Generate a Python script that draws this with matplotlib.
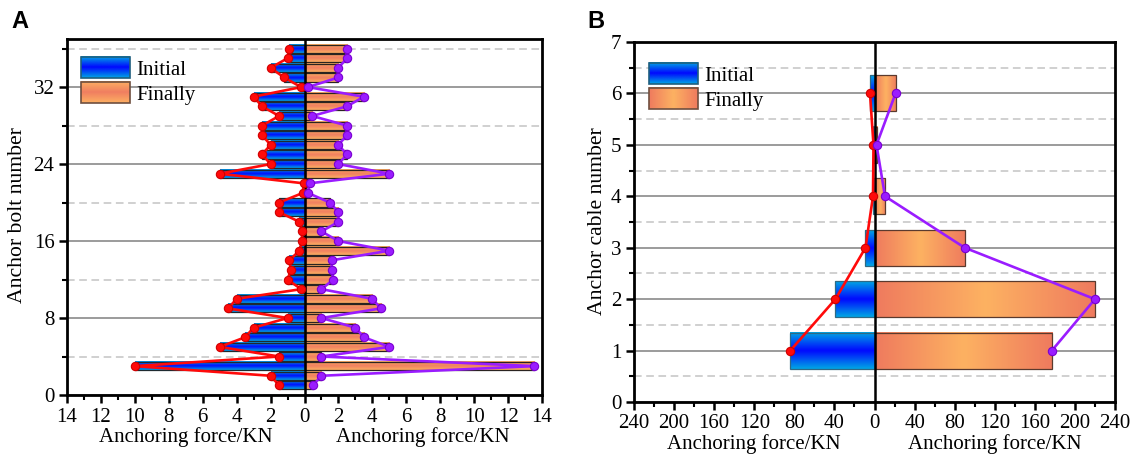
import numpy as np
import matplotlib
matplotlib.use("Agg")
import matplotlib.pyplot as plt
from matplotlib.colors import LinearSegmentedColormap
from matplotlib.ticker import MultipleLocator, FuncFormatter
from matplotlib.legend_handler import HandlerBase
from matplotlib.image import BboxImage
from matplotlib.transforms import Bbox, TransformedBbox
from matplotlib.patches import Rectangle

# ---------------- data ----------------
bolt_number = list(range(1, 37))
bolt_initial = [1.5, 2.0, 10.0, 1.5, 5.0, 3.5, 3.0, 1.0, 4.5, 4.0, 0.2, 1.0,
                0.8, 0.9, 0.3, 0.15, 0.15, 0.3, 1.5, 1.5, 0.1, 0.05, 5.0, 2.0,
                2.5, 2.0, 2.5, 2.5, 1.5, 2.5, 3.0, 0.2, 1.2, 2.0, 1.0, 0.9]
bolt_finally = [0.5, 1.0, 13.5, 1.0, 5.0, 3.5, 3.0, 1.0, 4.5, 4.0, 1.0, 1.7,
                1.6, 1.6, 5.0, 2.0, 1.0, 2.0, 2.0, 1.5, 0.2, 0.3, 5.0, 2.0,
                2.5, 2.0, 2.5, 2.5, 0.45, 2.5, 3.5, 0.2, 2.0, 2.0, 2.5, 2.5]

cable_number = [1, 2, 3, 4, 5, 6]
cable_initial = [84, 39, 9, 1.5, 1, 4.5]
cable_finally = [177, 220, 90, 10.5, 2, 21]

legend_labels = ["Initial", "Finally"]
x_label = "Anchoring force/KN"
ylabel_a = "Anchor bolt number"
ylabel_b = "Anchor cable number"

# ---------------- style ----------------
plt.rcParams['font.family'] = ['Liberation Serif', 'DejaVu Serif']
FS = 15
FS_YL = 15.6

blue_cmap = LinearSegmentedColormap.from_list("b", ["#00A6E4", "#0008FF", "#00A6E4"])
orange_v_cmap = LinearSegmentedColormap.from_list("ov", ["#FDB062", "#F07E60", "#FDB062"])
orange_h_cmap = LinearSegmentedColormap.from_list("oh", ["#EF7B5E", "#FDB262", "#EF7B5E"])

grad_v = np.linspace(0, 1, 64).reshape(-1, 1)
grad_h = np.linspace(0, 1, 64).reshape(1, -1)

RED = "#FF0A0A"
PURPLE = "#9A1CFF"


def gradient_bars(ax, y, vals, height, cmap, grad, edgecolor, lw=0.9):
    bars = ax.barh(y, vals, height=height, color='none', edgecolor=edgecolor,
                   linewidth=lw, zorder=3)
    for r in bars:
        x0, y0, w, h = r.get_x(), r.get_y(), r.get_width(), r.get_height()
        ax.imshow(grad, cmap=cmap, extent=[x0, x0 + w, y0, y0 + h],
                  aspect='auto', interpolation='bicubic', zorder=2.5, origin='lower')
    return bars


class GradHandler(HandlerBase):
    def __init__(self, cmap, grad, ec):
        super().__init__()
        self.cmap = cmap
        self.grad = grad
        self.ec = ec

    def create_artists(self, legend, orig_handle, xdescent, ydescent, width,
                       height, fontsize, trans):
        bb = Bbox.from_bounds(-xdescent, -ydescent, width, height)
        img = BboxImage(TransformedBbox(bb, trans), cmap=self.cmap,
                        interpolation='bicubic', origin='lower')
        img.set_data(self.grad)
        rect = Rectangle((-xdescent, -ydescent), width, height, fc='none',
                         ec=self.ec, lw=1.2, transform=trans)
        return [img, rect]


def style_axis(ax):
    for s in ax.spines.values():
        s.set_linewidth(2.0)
        s.set_color('black')
    ax.tick_params(axis='both', which='major', direction='out', length=6,
                   width=1.8, labelsize=FS, pad=3)
    ax.tick_params(axis='both', which='minor', direction='out', length=3.5,
                   width=1.5)
    ax.tick_params(top=False, right=False, which='both')
    ax.xaxis.set_major_formatter(FuncFormatter(lambda v, p: f"{abs(v):g}"))
    ax.grid(which='major', axis='y', color='#808080', lw=1.1, ls='-', zorder=0)
    ax.grid(which='minor', axis='y', color='#C4C4C4', lw=1.1, ls=(0, (5, 3)), zorder=0)
    ax.set_axisbelow(True)


W, H = 1137, 457
fig = plt.figure(figsize=(W / 100, H / 100), dpi=100)

def px_axes(l, t, r, b):
    return fig.add_axes([l / W, 1 - b / H, (r - l) / W, (b - t) / H])

# ---------------- Panel A ----------------
axA = px_axes(67, 39, 542, 395)
neg_init = [-v for v in bolt_initial]
gradient_bars(axA, bolt_number, neg_init, 0.85, blue_cmap, grad_v, '#1E2A30')
gradient_bars(axA, bolt_number, bolt_finally, 0.85, orange_v_cmap, grad_v, '#2A2420')
axA.axvline(0, color='black', lw=1.8, zorder=4)
axA.plot(neg_init, bolt_number, '-o', color=RED, lw=1.9, ms=6,
         mfc=RED, mec='#D00000', mew=0.8, zorder=5)
axA.plot(bolt_finally, bolt_number, '-o', color=PURPLE, lw=1.9, ms=6,
         mfc=PURPLE, mec='#7A00D0', mew=0.8, zorder=5)
axA.set_xlim(-14, 14)
axA.set_ylim(0, 37)
axA.xaxis.set_major_locator(MultipleLocator(2))
axA.xaxis.set_minor_locator(MultipleLocator(1))
axA.yaxis.set_major_locator(MultipleLocator(8))
axA.yaxis.set_minor_locator(MultipleLocator(4))
style_axis(axA)

hA = [Rectangle((0, 0), 1, 1), Rectangle((0, 0), 1, 1)]
axA.legend(hA, legend_labels, loc='upper left', bbox_to_anchor=(0.0295, 0.95),
           frameon=False, fontsize=FS, borderpad=0, borderaxespad=0,
           handlelength=2.35, handleheight=1.2, handletextpad=0.3, labelspacing=0.12,
           handler_map={hA[0]: GradHandler(blue_cmap, grad_v, '#1F5F7F'),
                        hA[1]: GradHandler(orange_v_cmap, grad_v, '#6F4F3F')})

for xf in (0.25, 0.75):
    axA.annotate(x_label, xy=(xf, 0), xycoords='axes fraction', xytext=(0, -30),
                 textcoords='offset points', ha='center', va='center', fontsize=FS)
fig.text(18 / W, 1 - 215 / H, ylabel_a, rotation=90, ha='center', va='center', fontsize=FS_YL)

# ---------------- Panel B ----------------
axB = px_axes(634, 42, 1115, 402)
neg_cinit = [-v for v in cable_initial]
gradient_bars(axB, cable_number, neg_cinit, 0.7, blue_cmap, grad_v, '#2F6A85')
gradient_bars(axB, cable_number, cable_finally, 0.7, orange_h_cmap, grad_h, '#5A3A2E')
axB.axvline(0, color='black', lw=1.8, zorder=4)
axB.plot(neg_cinit, cable_number, '-o', color=RED, lw=1.9, ms=6,
         mfc=RED, mec='#D00000', mew=0.8, zorder=5)
axB.plot(cable_finally, cable_number, '-o', color=PURPLE, lw=1.9, ms=6,
         mfc=PURPLE, mec='#7A00D0', mew=0.8, zorder=5)
axB.set_xlim(-240, 240)
axB.set_ylim(0, 7)
axB.xaxis.set_major_locator(MultipleLocator(40))
axB.xaxis.set_minor_locator(MultipleLocator(20))
axB.yaxis.set_major_locator(MultipleLocator(1))
axB.yaxis.set_minor_locator(MultipleLocator(0.5))
style_axis(axB)

hB = [Rectangle((0, 0), 1, 1), Rectangle((0, 0), 1, 1)]
axB.legend(hB, legend_labels, loc='upper left', bbox_to_anchor=(0.031, 0.942),
           frameon=False, fontsize=FS, borderpad=0, borderaxespad=0,
           handlelength=2.35, handleheight=1.2, handletextpad=0.3, labelspacing=0.12,
           handler_map={hB[0]: GradHandler(blue_cmap, grad_v, '#1F5F7F'),
                        hB[1]: GradHandler(orange_h_cmap, grad_h, '#6F4F3F')})

for xf in (0.25, 0.75):
    axB.annotate(x_label, xy=(xf, 0), xycoords='axes fraction', xytext=(0, -30),
                 textcoords='offset points', ha='center', va='center', fontsize=FS)
fig.text(597 / W, 1 - 221 / H, ylabel_b, rotation=90, ha='center', va='center', fontsize=FS_YL)

# panel letters
fig.text(20 / W, 1 - 22 / H, "A", fontsize=17, fontweight='bold',
         family=['Liberation Sans', 'DejaVu Sans'], ha='center', va='center')
fig.text(596 / W, 1 - 22 / H, "B", fontsize=17, fontweight='bold',
         family=['Liberation Sans', 'DejaVu Sans'], ha='center', va='center')

fig.savefig("out.png", dpi=100)
